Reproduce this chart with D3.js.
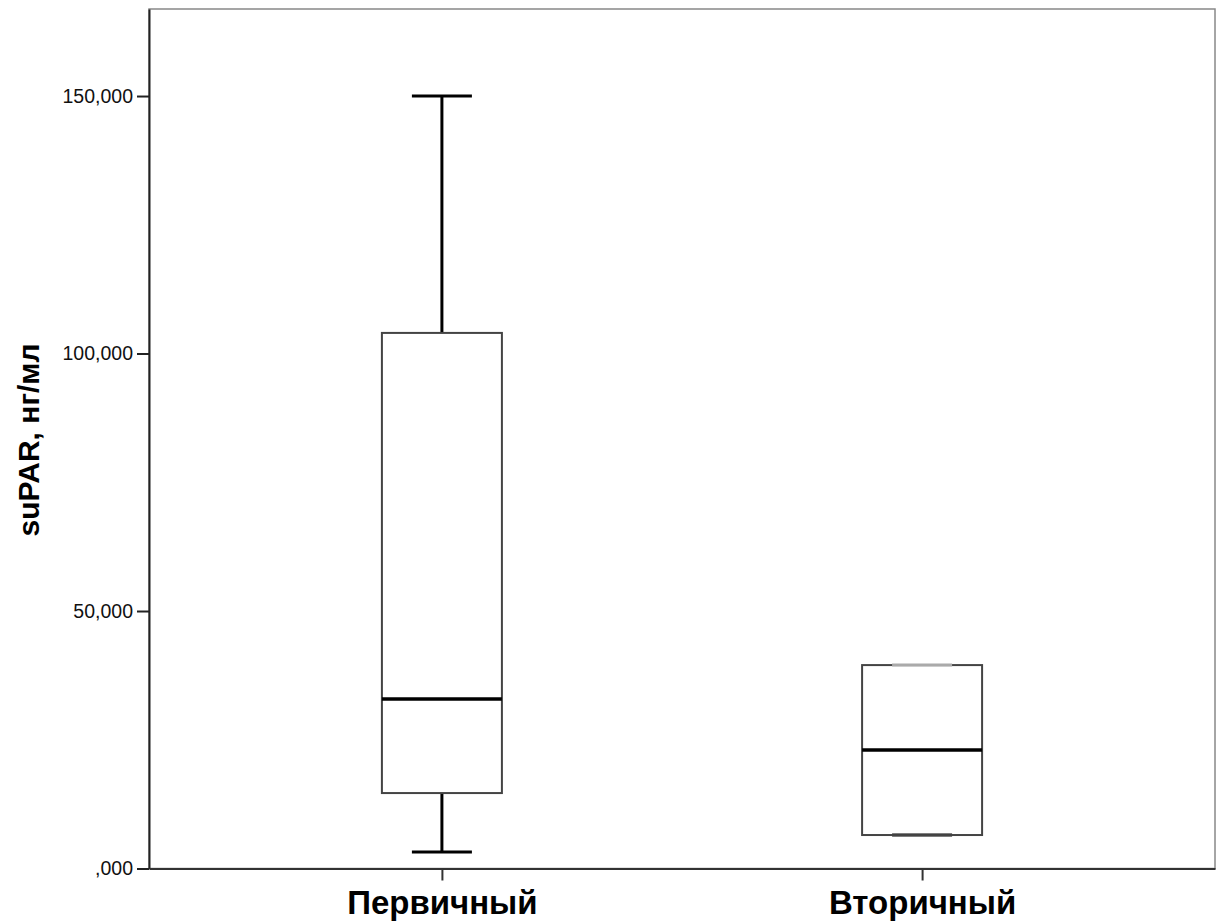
<!DOCTYPE html>
<html>
<head>
<meta charset="utf-8">
<script src="https://cdn.jsdelivr.net/npm/d3@7"></script>
<style>
  html, body { margin: 0; padding: 0; background: #fff; }
  svg { display: block; }
</style>
</head>
<body>
<div id="app"></div>
<script>
// данные
const categories = ['Первичный', 'Вторичный']
const whiskerLow = [3200, 6500]
const q1 = [14650, 6500]
const median = [32900, 23000]
const q3 = [104000, 39500]
const whiskerHigh = [150000, 39500]
const yTicks = [0, 50000, 100000, 150000]
const yLabel = 'suPAR, нг/мл'

const width = 1216
const height = 923
const margin = { top: 9, right: 1, bottom: 54.5, left: 149 }
const font = 'Liberation Sans, Arial, sans-serif'

const svg = d3.select('#app').append('svg')
  .attr('width', width)
  .attr('height', height)

const x = d3.scalePoint()
  .domain(categories)
  .range([margin.left, width - margin.right])
  .padding(0.61)

const y = d3.scaleLinear()
  .domain([0, 166900])
  .range([height - margin.bottom, margin.top])

// формат как в SPSS: 150,000 и ,000
const tickFmt = (v) => v === 0 ? ',000' : d3.format(',')(v / 1000) + ',000'

// рамка
svg.append('rect')
  .attr('x', margin.left)
  .attr('y', margin.top)
  .attr('width', width - margin.left - margin.right)
  .attr('height', height - margin.top - margin.bottom)
  .attr('fill', 'none')
  .attr('stroke', '#888')
  .attr('stroke-width', 1.5)

// ось Y
const yAxis = svg.append('g')
  .attr('transform', `translate(${margin.left},0)`)
  .call(d3.axisLeft(y).tickValues(yTicks).tickFormat(tickFmt).tickSize(12).tickSizeOuter(0).tickPadding(4))
yAxis.select('.domain').attr('stroke', '#222').attr('stroke-width', 2)
yAxis.selectAll('.tick line').attr('stroke', '#222').attr('stroke-width', 2)
yAxis.selectAll('.tick text')
  .attr('font-family', font)
  .attr('font-size', 19.5)
  .attr('fill', '#111')

// ось X
const xAxis = svg.append('g')
  .attr('transform', `translate(0,${height - margin.bottom})`)
  .call(d3.axisBottom(x).tickSize(12).tickSizeOuter(0).tickPadding(10))
xAxis.select('.domain').attr('stroke', '#333').attr('stroke-width', 2)
xAxis.selectAll('.tick line').attr('stroke', '#333').attr('stroke-width', 2)
xAxis.selectAll('.tick text')
  .attr('font-family', font)
  .attr('font-size', 33)
  .attr('font-weight', 'bold')
  .attr('fill', '#000')

// подпись оси Y
svg.append('text')
  .attr('transform', `translate(39,440) rotate(-90)`)
  .attr('text-anchor', 'middle')
  .attr('font-family', font)
  .attr('font-size', 30)
  .attr('font-weight', 'bold')
  .text(yLabel)

const boxW = 120
const capW = 60
const rows = categories.map((c, i) => ({
  cat: c, lo: whiskerLow[i], q1: q1[i], med: median[i], q3: q3[i], hi: whiskerHigh[i]
}))

const g = svg.append('g')
  .selectAll('g')
  .data(rows)
  .join('g')
  .attr('transform', (d) => `translate(${x(d.cat)},0)`)

// усы
g.append('line')
  .attr('x1', 0).attr('x2', 0)
  .attr('y1', (d) => y(d.hi)).attr('y2', (d) => y(d.q3))
  .attr('stroke', '#000').attr('stroke-width', 3)
g.append('line')
  .attr('x1', 0).attr('x2', 0)
  .attr('y1', (d) => y(d.q1)).attr('y2', (d) => y(d.lo))
  .attr('stroke', '#000').attr('stroke-width', 3)
g.append('line')
  .attr('x1', -capW / 2).attr('x2', capW / 2)
  .attr('y1', (d) => y(d.lo)).attr('y2', (d) => y(d.lo))
  .attr('stroke', '#000').attr('stroke-width', 3)

// ящик
g.append('rect')
  .attr('x', -boxW / 2)
  .attr('width', boxW)
  .attr('y', (d) => y(d.q3))
  .attr('height', (d) => y(d.q1) - y(d.q3))
  .attr('fill', 'none')
  .attr('stroke', '#444')
  .attr('stroke-width', 2)

// верхний ус поверх ящика (у второго совпадает с Q3 и виден серым)
g.append('line')
  .attr('x1', -capW / 2).attr('x2', capW / 2)
  .attr('y1', (d) => y(d.hi)).attr('y2', (d) => y(d.hi))
  .attr('stroke', (d) => d.hi === d.q3 ? '#aaa' : '#000').attr('stroke-width', 3)

// медиана
g.append('line')
  .attr('x1', -boxW / 2).attr('x2', boxW / 2)
  .attr('y1', (d) => y(d.med)).attr('y2', (d) => y(d.med))
  .attr('stroke', '#000').attr('stroke-width', 3.5)
</script>
</body>
</html>
